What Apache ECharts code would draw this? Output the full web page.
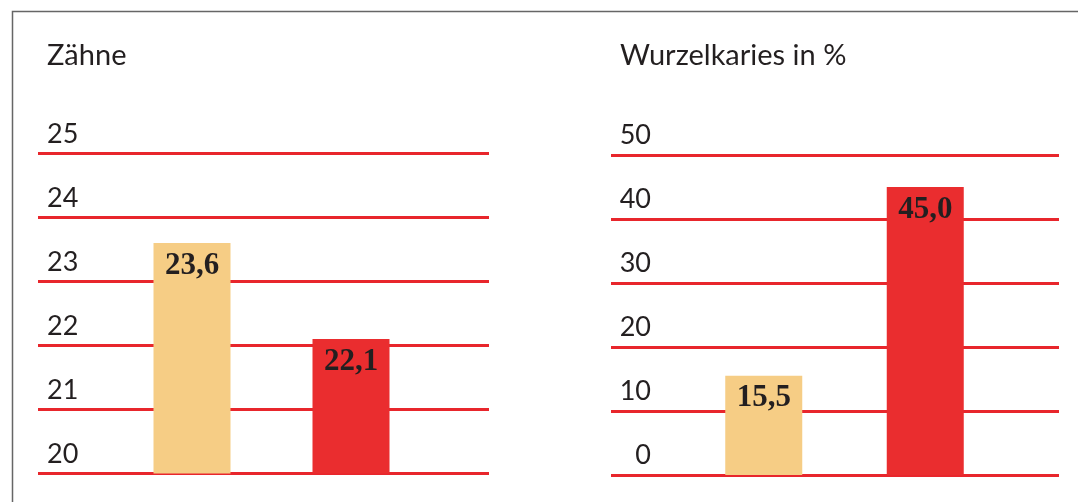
<!DOCTYPE html>
<html>
<head>
<meta charset="utf-8">
<script src="https://cdn.jsdelivr.net/npm/echarts@6/dist/echarts.min.js"></script>
<style>
  html, body { margin: 0; padding: 0; background: #fff; }
  #main { width: 1078px; height: 502px; }
</style>
</head>
<body>
<div id="main"></div>
<script>
var groups = ['Gruppe 1', 'Gruppe 2'];
var zaehneValues = [23.6, 22.1];
var kariesValues = [15.5, 45.0];
var zaehneTicks = { min: 20, max: 25, interval: 1 };
var kariesTicks = { min: 0, max: 50, interval: 10 };
var titles = ['Zähne', 'Wurzelkaries in %'];

var BEIGE = '#f6cd85';
var RED = '#ea2d2f';
var LINE_RED = '#e8262c';
var TEXT = '#231f20';
var FONT = 'Lato, "Open Sans", sans-serif';

function fmt(v) {
  return v.toFixed(1).replace('.', ',');
}

function barData(values) {
  return values.map(function (v, i) {
    return { value: v, itemStyle: { color: i === 0 ? BEIGE : RED } };
  });
}

function lineAxis(ticks, gridIndex, align, margin) {
  return {
    type: 'value',
    gridIndex: gridIndex,
    min: ticks.min,
    max: ticks.max,
    interval: ticks.interval,
    axisLine: { show: false },
    axisTick: { show: false },
    axisLabel: {
      inside: true,
      margin: margin,
      align: align,
      verticalAlign: 'bottom',
      lineHeight: 27,
      padding: [0, 0, 6, 0],
      color: TEXT,
      fontFamily: FONT,
      fontSize: 27
    },
    splitLine: { lineStyle: { color: LINE_RED, width: 3 } }
  };
}

function barAxis(ticks, gridIndex) {
  return {
    type: 'value',
    gridIndex: gridIndex,
    min: ticks.min,
    max: ticks.max,
    interval: ticks.interval,
    show: false,
    splitLine: { show: false }
  };
}

var labelStyle = {
  show: true,
  position: 'insideTop',
  distance: 7,
  formatter: function (p) { return fmt(p.value); },
  color: TEXT,
  fontFamily: '"Liberation Serif", serif',
  fontWeight: 'bold',
  fontSize: 31
};

var titleStyle = { color: TEXT, fontFamily: FONT, fontSize: 29, fontWeight: 'normal' };

var option = {
  backgroundColor: '#fff',
  animation: false,
  title: [{
    text: titles[0],
    left: 47,
    top: 41,
    padding: 0,
    textStyle: titleStyle
  }, {
    text: titles[1],
    left: 620,
    top: 41,
    padding: 0,
    textStyle: titleStyle
  }],
  graphic: [{
    type: 'polyline',
    shape: { points: [[12.5, 502], [12.5, 11.5], [1078, 11.5]] },
    style: { stroke: '#666', lineWidth: 1.5, fill: null },
    silent: true
  }],
  grid: [
    // lines of left chart
    { left: 38, right: 589, top: 153.5, bottom: 28.5 },
    // bars of left chart
    { left: 112.5, right: 647.5, top: 153.5, bottom: 28.5 },
    // lines of right chart
    { left: 611, right: 19, top: 155, bottom: 27 },
    // bars of right chart
    { left: 683, right: 1078 - 1006, top: 155, bottom: 27 }
  ],
  xAxis: [
    { type: 'value', gridIndex: 0, min: 0, max: 1, show: false, splitLine: { show: false } },
    { type: 'category', gridIndex: 1, data: groups, show: false },
    { type: 'value', gridIndex: 2, min: 0, max: 1, show: false, splitLine: { show: false } },
    { type: 'category', gridIndex: 3, data: groups, show: false }
  ],
  yAxis: [
    lineAxis(zaehneTicks, 0, 'left', 9),
    barAxis(zaehneTicks, 1),
    lineAxis(kariesTicks, 2, 'right', 40),
    barAxis(kariesTicks, 3)
  ],
  series: [{
    name: titles[0],
    type: 'bar',
    xAxisIndex: 1,
    yAxisIndex: 1,
    barWidth: 77,
    z: 3,
    label: labelStyle,
    data: barData(zaehneValues)
  }, {
    name: titles[1],
    type: 'bar',
    xAxisIndex: 3,
    yAxisIndex: 3,
    barWidth: 77,
    z: 3,
    label: labelStyle,
    data: barData(kariesValues)
  }]
};

var chart = echarts.init(document.getElementById('main'));
chart.setOption(option);
</script>
</body>
</html>
